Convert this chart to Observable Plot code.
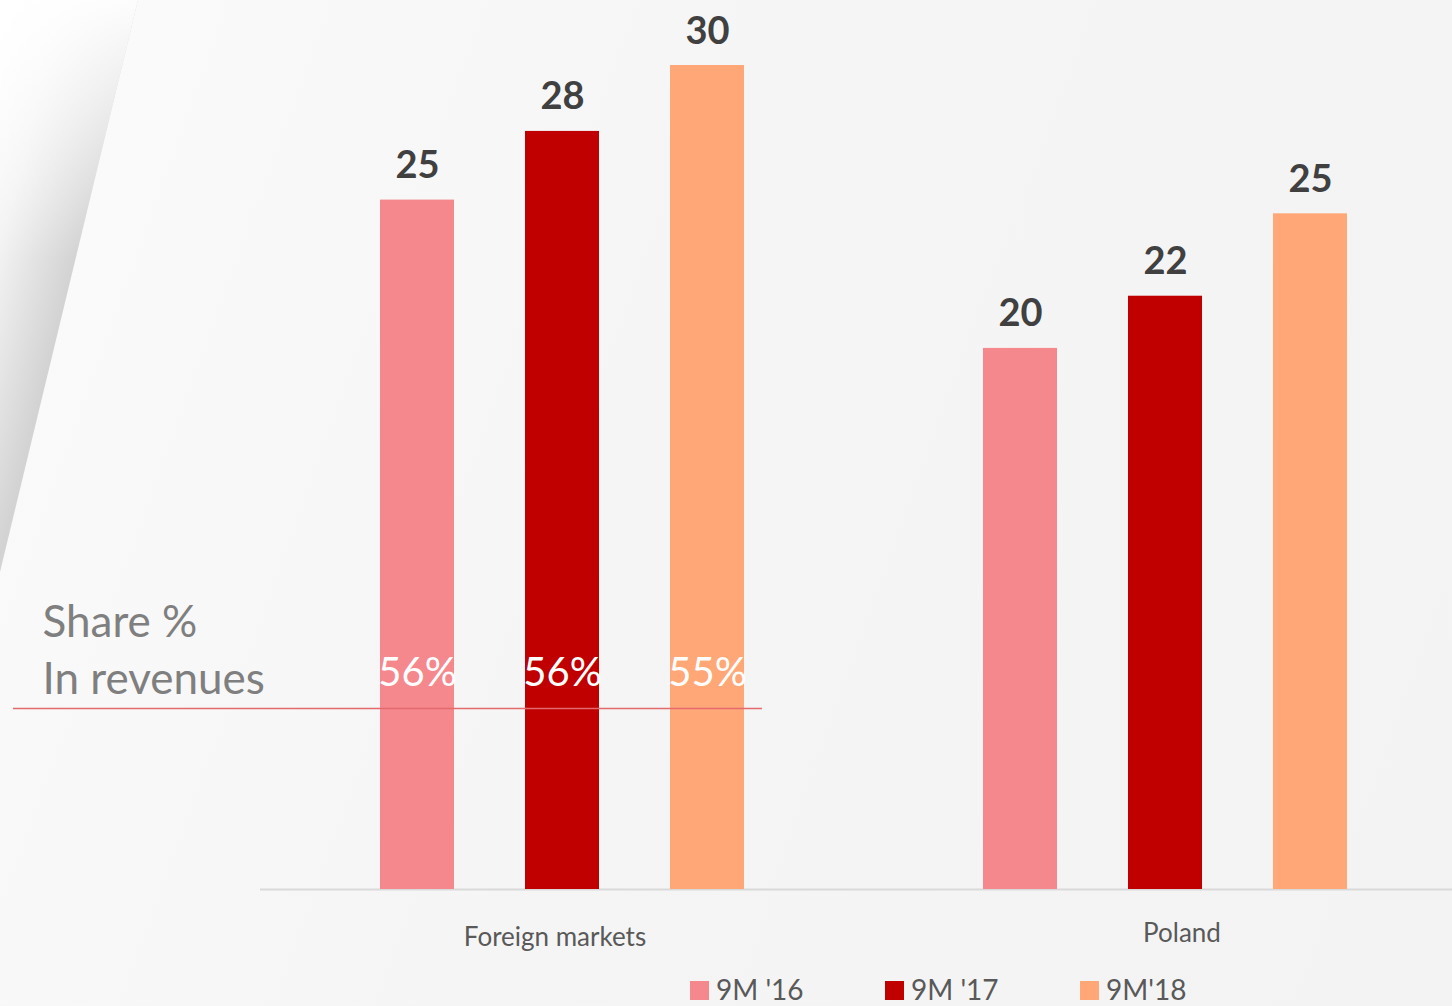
<!DOCTYPE html>
<html>
<head>
<meta charset="utf-8">
<script src="https://cdn.jsdelivr.net/npm/d3@7"></script>
<script src="https://cdn.jsdelivr.net/npm/@observablehq/plot@0.6"></script>
<style>
  html, body { margin: 0; padding: 0; }
  body {
    width: 1452px; height: 1006px; overflow: hidden; position: relative;
    background: linear-gradient(110deg, #fbfbfb 0%, #f5f5f5 45%, #f3f3f3 100%);
    font-family: Lato, "Open Sans", sans-serif;
  }
  #page {
    position: absolute; left: 0; top: 0; width: 140px; height: 575px;
    clip-path: polygon(0 0, 138px 0, 0 572px);
    background:
      linear-gradient(to bottom, rgba(255,255,255,0.95) 0px, rgba(255,255,255,0) 260px),
      linear-gradient(104deg, #ffffff 0%, #f2f2f2 22%, #d3d3d3 49%, #d3d3d3 100%);
  }
  #chart { position: absolute; left: 0; top: 0; width: 1452px; overflow: hidden; }
  #chart svg { max-width: none !important; }
  #legend {
    position: absolute; left: 690px; top: 973px; display: flex;
    font-family: Lato, sans-serif; font-size: 28px; line-height: 32px; color: #595959;
  }
  .item { width: 195px; display: flex; align-items: center; white-space: pre; }
  .sw { width: 19px; height: 19px; margin-right: 7px; margin-top: 3px; }
</style>
</head>
<body>
<div id="page"></div>
<div id="chart"></div>
<div id="legend"></div>
<script>
const categories = ["Foreign markets", "Poland"];
const series = ["9M '16", "9M '17", "9M'18"];
const foreignValues = [25.1, 27.6, 30.0];
const polandValues = [19.7, 21.6, 24.6];
const foreignShares = ["56%", "56%", "55%"];
const colors = ["#f4888c", "#c00000", "#ffa776"];
const shareTitle = "Share %\nIn revenues";

const rows = [];
series.forEach((s, i) => rows.push({category: categories[0], series: s, value: foreignValues[i], share: foreignShares[i]}));
series.forEach((s, i) => rows.push({category: categories[1], series: s, value: polandValues[i], share: null}));
const shareRows = rows.filter(d => d.share);
const annot = [{category: categories[0], text: shareTitle}];
const catRows = categories.map(c => ({category: c}));
const fmt = d3.format(".0f");

const chart = Plot.plot({
  width: 1466,
  height: 975,
  marginLeft: 13,
  marginRight: 0,
  marginTop: 65,
  marginBottom: 86,
  style: {background: "transparent", fontFamily: "Lato, sans-serif", fontSize: "26px", color: "#595959", overflow: "visible", maxWidth: "none"},
  fx: {domain: categories, paddingInner: 0, paddingOuter: 0.2048, align: 1, axis: null},
  x: {domain: series, paddingInner: 0.4897, paddingOuter: 0.8241, axis: null},
  y: {domain: [0, 30], axis: null},
  color: {domain: series, range: colors},
  marks: [
    Plot.ruleY([0], {stroke: "#d9d9d9", strokeWidth: 2}),
    Plot.barY(rows, {fx: "category", x: "series", y: "value", fill: "series"}),
    Plot.text(rows, {fx: "category", x: "series", y: "value", text: d => fmt(d.value),
      lineAnchor: "bottom", dy: -22, fontSize: 38, fontWeight: "bold", fill: "#404040"}),
    Plot.text(shareRows, {fx: "category", x: "series", text: "share", frameAnchor: "bottom",
      lineAnchor: "bottom", dy: -204, fontSize: 40, fill: "white"}),
    Plot.ruleY(annot, {fx: "category", y: () => 0, dy: -181, insetLeft: -247, insetRight: 101,
      stroke: "#e46a6e", strokeWidth: 1.3}),
    Plot.text(annot, {fx: "category", text: "text", frameAnchor: "bottom-left", textAnchor: "start",
      lineAnchor: "bottom", dx: -218, dy: -196, fontSize: 44, lineHeight: 1.28, fill: "#7f7f7f"}),
    Plot.text(catRows.slice(0, 1), {fx: "category", text: "category", frameAnchor: "bottom",
      lineAnchor: "top", dx: -7, dy: 38, fontSize: 26, fill: "#595959"}),
    Plot.text(catRows.slice(1), {fx: "category", text: "category", frameAnchor: "bottom",
      lineAnchor: "top", dx: 17, dy: 34, fontSize: 26, fill: "#595959"})
  ]
});
document.getElementById("chart").appendChild(chart);

const legend = document.getElementById("legend");
series.forEach((s, i) => {
  const it = document.createElement("div");
  it.className = "item";
  const sw = document.createElement("span");
  sw.className = "sw";
  sw.style.background = colors[i];
  const t = document.createElement("span");
  t.textContent = s;
  it.appendChild(sw); it.appendChild(t);
  legend.appendChild(it);
});
</script>
</body>
</html>
